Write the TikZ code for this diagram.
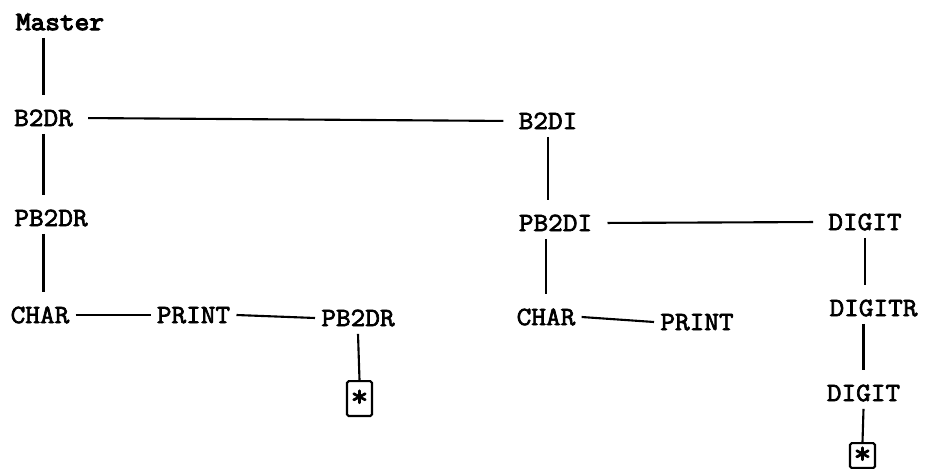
\documentclass[tikz,border=0pt]{standalone}
\usepackage{fontspec}
\newfontfamily\callfont{Latin Modern Mono}[FakeBold=2.6,FakeStretch=1.08]
\newfontfamily\rootfont{Latin Modern Mono}[FakeBold=4.2,FakeStretch=1.08]

\begin{document}
\begin{tikzpicture}[
  x=0.02cm,
  y=-0.02cm,
  font=\callfont\fontsize{15}{18}\selectfont,
  line/.style={draw=black,line width=1.2pt},
  link/.style={line,shorten >=0.14cm},
  span/.style={line,shorten <=0.18cm,shorten >=0.18cm},
  call/.style={inner xsep=0.12cm,inner ysep=0.15cm,text height=9.2pt,text depth=0pt},
  starbox/.style={line,rounded corners=1pt,anchor=north,inner sep=0pt,minimum width=0.5cm,
    text height=9pt,text depth=0pt,font=\callfont\fontsize{18}{18}\selectfont}
]
\useasboundingbox (0,0) rectangle (936,469);

% Main program and the B2DR side
\node[call,font=\rootfont\fontsize{15}{18}\selectfont] (master) at (60,22) {Master};
\node[call] (b2dr) at (43.5,118) {B2DR};
\node[call] (pb2dr) at (51,218) {PB2DR};
\node[call] (char) at (40,315) {CHAR};
\node[call] (print) at (193.5,315) {PRINT};
\node[call] (pb2drr) at (358,318) {PB2DR};
\node[starbox,minimum height=0.7cm] (recur) at (359.5,380) {*};

% B2DI side
\node[call] (b2di) at (548,121) {B2DI};
\node[call] (pb2di) at (555.5,223) {PB2DI};
\node[call] (chari) at (546,317) {CHAR};
\node[call] (printi) at (697,322) {PRINT};
\node[call] (digit) at (865,222) {DIGIT};
\node[call] (digitr) at (873.5,308) {DIGITR};
\node[call] (digitt) at (863.5,393) {DIGIT};
\node[starbox,minimum height=0.5cm] (recuri) at (862.5,442) {*};

% Calls
\draw[link] (master.south -| b2dr.north) -- (b2dr.north);
\draw[span] (b2dr.east) -- (b2di.west);
\draw[link] (b2dr.south) -- (pb2dr.north -| b2dr.south);
\draw[link] (pb2dr.south -| b2dr.south) -- (char.north -| b2dr.south);
\draw[line] (char.east) -- (print.west);
\draw[line] (print.east) -- (pb2drr.west);
\draw[line] (pb2drr.south) -- (recur.north);

\draw[link] (b2di.south) -- (pb2di.north -| b2di.south);
\draw[link] (pb2di.south -| chari.north) -- (chari.north);
\draw[line] (chari.east) -- (printi.west);
\draw[span] (pb2di.east) -- (digit.west);
\draw[link] (digit.south) -- (digitr.north -| digit.south);
\draw[link] (digitr.south -| digitt.north) -- (digitt.north);
\draw[line] (digitt.south) -- (recuri.north);

\end{tikzpicture}
\end{document}
